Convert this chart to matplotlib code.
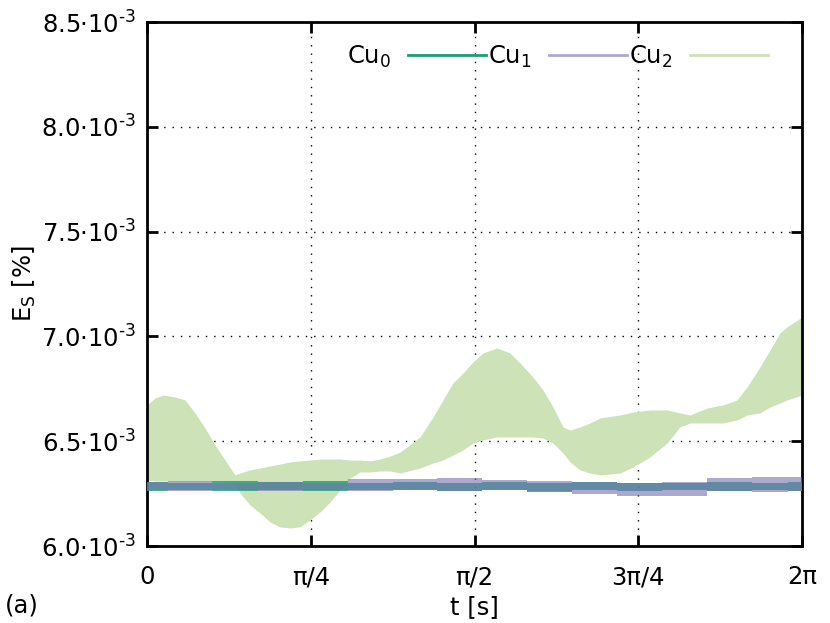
import numpy as np
import matplotlib
matplotlib.use("Agg")
import matplotlib.pyplot as plt
from matplotlib.lines import Line2D

plt.rcParams['font.family'] = ['DejaVu Sans']
plt.rcParams['mathtext.fontset'] = 'dejavusans'

# Cu2 envelope (values in 1e-3 %)
t2 = [0, 0.0384, 0.0767, 0.1343, 0.1823, 0.2302, 0.2782, 0.3262, 0.3741, 0.4221,
      0.4461, 0.4940, 0.5420, 0.5899, 0.6379, 0.6859, 0.7338, 0.7818, 0.8298, 0.8777,
      0.9257, 0.9737, 1.0216, 1.0696, 1.1175, 1.1655, 1.2135, 1.3094, 1.3717, 1.4197,
      1.4677, 1.5156, 1.5636, 1.6116, 1.6787, 1.7411, 1.7890, 1.8514, 1.8993, 1.9473,
      1.9953, 2.0288, 2.0768, 2.1248, 2.1727, 2.2687, 2.3310, 2.4126, 2.4941, 2.5564,
      2.6044, 2.6859, 2.7627, 2.8298, 2.8778, 2.9401, 2.9881, 3.0360, 3.0696, 3.1416]
cu2_hi = [6.673, 6.706, 6.720, 6.711, 6.697, 6.635, 6.563, 6.482, 6.410, 6.339,
          6.348, 6.363, 6.372, 6.382, 6.391, 6.401, 6.406, 6.410, 6.415, 6.415,
          6.415, 6.410, 6.410, 6.406, 6.415, 6.429, 6.448, 6.520, 6.615, 6.697,
          6.778, 6.825, 6.878, 6.921, 6.945, 6.921, 6.873, 6.806, 6.744, 6.663,
          6.568, 6.553, 6.568, 6.587, 6.611, 6.625, 6.639, 6.649, 6.649, 6.635,
          6.625, 6.658, 6.673, 6.697, 6.759, 6.854, 6.935, 7.016, 7.045, 7.093]
cu2_lo = [6.315, 6.310, 6.310, 6.310, 6.310, 6.310, 6.310, 6.308, 6.305, 6.300,
          6.253, 6.196, 6.157, 6.115, 6.091, 6.086, 6.091, 6.124, 6.162, 6.210,
          6.267, 6.324, 6.353, 6.353, 6.358, 6.358, 6.348, 6.372, 6.396, 6.410,
          6.434, 6.458, 6.491, 6.506, 6.520, 6.520, 6.520, 6.520, 6.515, 6.491,
          6.444, 6.401, 6.363, 6.348, 6.339, 6.348, 6.377, 6.425, 6.491, 6.568,
          6.587, 6.587, 6.587, 6.601, 6.625, 6.635, 6.663, 6.682, 6.697, 6.720]

# Cu0 / Cu1 envelopes
t01 = [0, 0.206, 0.422, 0.638, 0.854, 1.070, 1.285, 1.501, 1.717, 1.933,
       2.148, 2.364, 2.580, 2.796, 3.012, 3.1416]
cu0_lo = [6.262, 6.265, 6.262, 6.268, 6.262, 6.265, 6.268, 6.262, 6.265, 6.260,
          6.265, 6.262, 6.268, 6.262, 6.265, 6.262]
cu0_hi = [6.305, 6.300, 6.310, 6.305, 6.310, 6.300, 6.305, 6.300, 6.305, 6.300,
          6.305, 6.300, 6.300, 6.305, 6.300, 6.305]
cu1_lo = [6.265, 6.262, 6.268, 6.262, 6.265, 6.262, 6.265, 6.262, 6.268, 6.262,
          6.250, 6.238, 6.240, 6.262, 6.258, 6.262]
cu1_hi = [6.305, 6.308, 6.300, 6.305, 6.300, 6.318, 6.322, 6.325, 6.315, 6.308,
          6.305, 6.300, 6.305, 6.325, 6.330, 6.328]

xticks = [0, np.pi / 4, np.pi / 2, 3 * np.pi / 4, np.pi]
xlabels = ['0', 'π/4', 'π/2', '3π/4', '2π']
yticks = [6.0, 6.5, 7.0, 7.5, 8.0, 8.5]
ylabels = [f'{v:.1f}·10$^{{\\text{{-3}}}}$' for v in yticks]

c0, c1, c2 = '#1b9e77', '#7570b3', '#cde2b7'
fs = 17.5

fig = plt.figure(figsize=(8.3, 6.23), dpi=100)
ax = fig.add_axes([147 / 830, 77 / 623, 655 / 830, 524 / 623])

ax.fill_between(t2, cu2_lo, cu2_hi, color=c2, lw=0, zorder=2)
ax.fill_between(t01, cu0_lo, cu0_hi, color=c0, alpha=0.8, lw=0, step='mid', zorder=3)
ax.fill_between(t01, cu1_lo, cu1_hi, color=c1, alpha=0.6, lw=0, step='mid', zorder=4)

ax.set_xlim(0, np.pi)
ax.set_ylim(6.0, 8.5)
ax.set_xticks(xticks)
ax.set_xticklabels(xlabels, fontsize=fs)
ax.set_yticks(yticks)
ax.set_yticklabels(ylabels, fontsize=fs)
ax.tick_params(direction='in', length=8, width=2, top=True, right=True)
ax.tick_params(axis='x', pad=14)
ax.tick_params(axis='y', pad=8)
for s in ax.spines.values():
    s.set_linewidth(2)
ax.grid(True, color='black', linestyle=(0, (1, 5)), linewidth=1)
ax.set_axisbelow(True)

ax.set_xlabel('t [s]', fontsize=fs, labelpad=4)
ax.set_ylabel('E$_\\mathrm{S}$ [%]', fontsize=fs, labelpad=2)
fig.text(5 / 830, 1 - 605 / 623, '(a)', fontsize=fs, va='center', ha='left')

handles = [Line2D([], [], color=c0, lw=2),
           Line2D([], [], color=c1, alpha=0.6, lw=2),
           Line2D([], [], color=c2, lw=2)]
ax.legend(handles, ['Cu$_0$', 'Cu$_1$', 'Cu$_2$'], ncol=3, markerfirst=False,
          frameon=False, fontsize=fs, handlelength=3.2, handletextpad=0.7,
          columnspacing=0.1, loc='upper right', bbox_to_anchor=(0.981, 1.0))

fig.savefig('out.png', dpi=100)
